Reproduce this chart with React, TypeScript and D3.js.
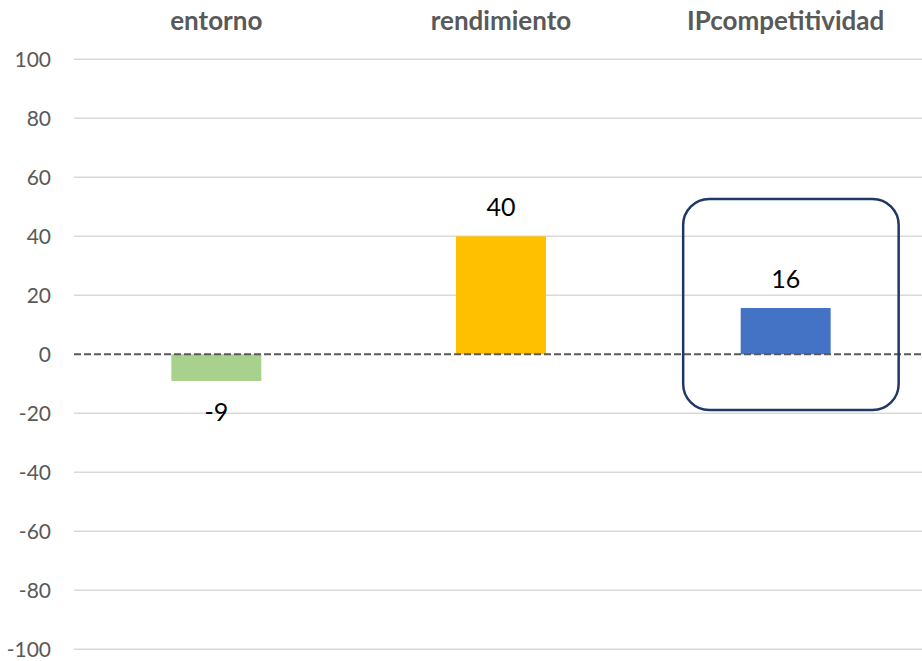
import React, { useEffect, useRef } from 'react'
import * as d3 from 'd3'

const categories: string[] = ['entorno', 'rendimiento', 'IPcompetitividad']
const values: number[] = [-9.05, 40, 15.7]
const barColors: string[] = ['#A9D18E', '#FFC000', '#4472C4']
const yTicks: number[] = [100, 80, 60, 40, 20, 0, -20, -40, -60, -80, -100]
const highlighted: string = 'IPcompetitividad'

const W = 922
const H = 661
const FONT = 'Lato, "Open Sans", sans-serif'

export default function App() {
    const ref = useRef<SVGSVGElement | null>(null)

    useEffect(() => {
        const svg = d3.select(ref.current)
        svg.selectAll('*').remove()

        const x = d3.scaleBand<string>()
            .domain(categories)
            .range([74, 928])
            .paddingInner(0.684)
            .paddingOuter(0.342)

        const y = d3.scaleLinear()
            .domain([-100, 100])
            .range([649.3, 59.3])

        // gridlines
        svg.append('g')
            .selectAll('line')
            .data(yTicks.filter(t => t !== 0))
            .enter().append('line')
            .attr('x1', 74)
            .attr('x2', W)
            .attr('y1', d => y(d))
            .attr('y2', d => y(d))
            .attr('stroke', '#d9d9d9')
            .attr('stroke-width', 1.5)

        // tick labels
        svg.append('g')
            .selectAll('text')
            .data(yTicks)
            .enter().append('text')
            .attr('x', 51)
            .attr('y', d => y(d))
            .attr('dy', '0.36em')
            .attr('text-anchor', 'end')
            .attr('font-family', FONT)
            .attr('font-size', 21)
            .attr('fill', '#595959')
            .text(d => String(d))

        // category titles
        svg.append('g')
            .selectAll('text')
            .data(categories)
            .enter().append('text')
            .attr('x', d => (x(d) as number) + x.bandwidth() / 2)
            .attr('y', 30)
            .attr('text-anchor', 'middle')
            .attr('font-family', FONT)
            .attr('font-weight', 'bold')
            .attr('font-size', 26)
            .attr('fill', '#595959')
            .text(d => d)

        // bars
        svg.append('g')
            .selectAll('rect')
            .data(values)
            .enter().append('rect')
            .attr('x', (d, i) => x(categories[i]) as number)
            .attr('width', x.bandwidth())
            .attr('y', d => y(Math.max(0, d)))
            .attr('height', d => Math.abs(y(d) - y(0)))
            .attr('fill', (d, i) => barColors[i])

        // value labels
        svg.append('g')
            .selectAll('text')
            .data(values)
            .enter().append('text')
            .attr('x', (d, i) => (x(categories[i]) as number) + x.bandwidth() / 2)
            .attr('y', d => d >= 0 ? y(d) - 20 : y(d) + 40)
            .attr('text-anchor', 'middle')
            .attr('font-family', FONT)
            .attr('font-size', 25)
            .attr('fill', '#000')
            .text(d => String(Math.round(d)))

        // zero line
        svg.append('line')
            .attr('x1', 74)
            .attr('x2', W)
            .attr('y1', y(0))
            .attr('y2', y(0))
            .attr('stroke', '#595959')
            .attr('stroke-width', 2)
            .attr('stroke-dasharray', '7,3')

        // highlight box
        const hx = (x(highlighted) as number) + x.bandwidth() / 2
        svg.append('rect')
            .attr('x', hx - 102.5)
            .attr('y', 199)
            .attr('width', 215.5)
            .attr('height', 211)
            .attr('rx', 26)
            .attr('ry', 26)
            .attr('fill', 'none')
            .attr('stroke', '#203864')
            .attr('stroke-width', 2.5)
    }, [])

    return (
        <svg ref={ref} width={W} height={H}
            style={{ position: 'absolute', left: 0, top: 0, background: '#fff' }} />
    )
}
